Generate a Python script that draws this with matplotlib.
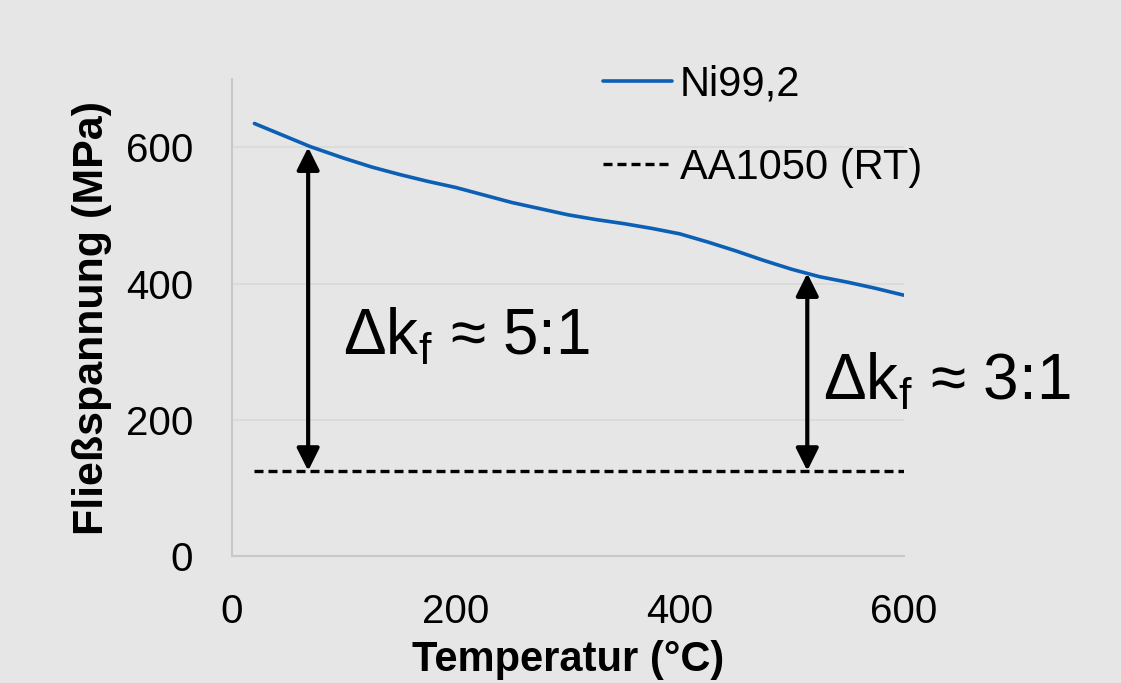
import matplotlib
matplotlib.use("Agg")
import matplotlib.pyplot as plt

plt.rcParams['font.family'] = ['Liberation Sans', 'DejaVu Sans']
plt.rcParams['mathtext.fontset'] = 'custom'
plt.rcParams['mathtext.rm'] = 'Liberation Sans'
plt.rcParams['mathtext.it'] = 'Liberation Sans:italic'

# Data
temperature = [20, 70, 100, 125, 150, 175, 200, 225, 250, 275, 300, 325, 350, 375,
               400, 425, 450, 475, 500, 525, 550, 575, 600]
ni_stress = [635, 601, 584, 571, 560, 550, 541, 530, 519, 510, 501, 494, 488, 481,
             473, 461, 448, 434, 421, 410, 402, 393, 383]
aa_temperature = [20, 600]
aa_stress = [125, 125]
arrow_x = [68, 514]
arrow_top = [600, 415]
ratio_labels = [r'$\Delta$k$_\mathrm{f}$ ≈ 5:1', r'$\Delta$k$_\mathrm{f}$ ≈ 3:1']
x_ticks = [0, 200, 400, 600]
y_ticks = [0, 200, 400, 600]

bg = '#e6e6e6'
fig = plt.figure(figsize=(11.21, 6.83), dpi=100, facecolor=bg)
ax = fig.add_axes([0.207, 0.186, 0.599, 0.698], facecolor=bg)

ax.plot(temperature, ni_stress, color='#0b5fb4', lw=2.6, label='Ni99,2', zorder=3,
        solid_capstyle='round', solid_joinstyle='round')
ax.plot(aa_temperature, aa_stress, color='black', lw=2.4, linestyle=(0, (2.7, 1.5)),
        label='AA1050 (RT)', zorder=3)

for xa, yt in zip(arrow_x, arrow_top):
    ax.annotate('', xy=(xa, yt), xytext=(xa, aa_stress[0]),
                arrowprops=dict(arrowstyle='<|-|>,head_length=0.4,head_width=0.2',
                                color='black', lw=3.0,
                                mutation_scale=34, shrinkA=0, shrinkB=0), zorder=4)

ax.text(99, 295, ratio_labels[0], fontsize=46, ha='left', va='baseline')
ax.text(528, 229, ratio_labels[1], fontsize=46, ha='left', va='baseline', clip_on=False)

ax.set_xlim(0, 600)
ax.set_ylim(0, 700)
ax.set_xticks(x_ticks)
ax.set_yticks(y_ticks)
ax.tick_params(axis='x', length=0, labelsize=29, pad=27)
ax.tick_params(axis='y', length=0, labelsize=29, pad=28)
ax.grid(axis='y', color='#d9d9d9', lw=1.2)
ax.grid(axis='x', visible=False)
for s in ['top', 'right']:
    ax.spines[s].set_visible(False)
for s in ['left', 'bottom']:
    ax.spines[s].set_color('#c8c8c8')
    ax.spines[s].set_linewidth(1.5)

ax.set_xlabel('Temperatur (°C)', fontsize=30, fontweight='bold', labelpad=6)
ax.set_ylabel('Fließspannung (MPa)', fontsize=31, fontweight='bold', labelpad=10)

leg = fig.legend(loc='upper left', bbox_to_anchor=(0.538, 0.905), fontsize=30, frameon=False,
                 handlelength=1.65, handletextpad=0.19, labelspacing=1.03,
                 borderpad=0, borderaxespad=0)

fig.savefig('out.png', dpi=100, facecolor=bg)
